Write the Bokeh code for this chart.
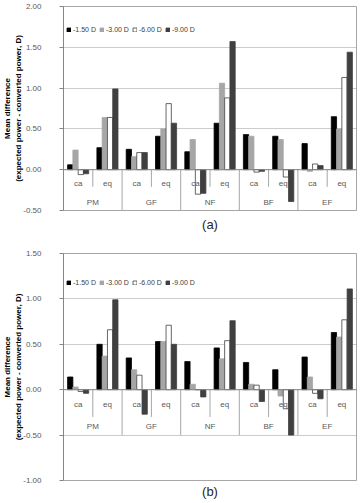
from bokeh.plotting import figure
from bokeh.layouts import column
from bokeh.models import (FactorRange, ColumnDataSource, FixedTicker, PrintfTickFormatter,
                          Span, Title, Legend, LegendItem)
from bokeh.transform import dodge
from bokeh.core.properties import value
from bokeh.embed import file_html
from bokeh.resources import INLINE

# Categories: fitting group x axis type
groups = ["PM", "GF", "NF", "BF", "EF"]
subs = ["ca", "eq"]
series_names = ["-1.50 D", "-3.00 D", "-6.00 D", "-9.00 D"]

# Panel (a): values ordered PM ca, PM eq, GF ca, GF eq, NF ca, NF eq, BF ca, BF eq, EF ca, EF eq
a_150 = [0.06, 0.27, 0.25, 0.41, 0.22, 0.57, 0.43, 0.41, 0.32, 0.65]
a_300 = [0.24, 0.64, 0.16, 0.50, 0.37, 1.06, 0.41, 0.37, -0.02, 0.50]
a_600 = [-0.06, 0.64, 0.21, 0.81, -0.30, 0.88, -0.03, -0.09, 0.07, 1.13]
a_900 = [-0.05, 0.99, 0.21, 0.57, -0.29, 1.57, -0.02, -0.39, 0.05, 1.44]

# Panel (b)
b_150 = [0.14, 0.50, 0.35, 0.53, 0.31, 0.46, 0.30, 0.22, 0.36, 0.63]
b_300 = [0.03, 0.37, 0.22, 0.53, 0.06, 0.34, 0.06, -0.07, 0.14, 0.58]
b_600 = [-0.02, 0.66, 0.16, 0.71, 0.00, 0.54, 0.05, -0.21, -0.04, 0.77]
b_900 = [-0.04, 0.99, -0.27, 0.50, -0.08, 0.76, -0.13, -0.50, -0.10, 1.11]

a_ticks = [-0.5, 0.0, 0.5, 1.0, 1.5, 2.0]
b_ticks = [-1.0, -0.5, 0.0, 0.5, 1.0, 1.5]

FONT = "Liberation Sans"
fills = ["#000000", "#A6A6A6", "#FFFFFF", "#404040"]
lines = ["#000000", "#A6A6A6", "#404040", "#404040"]
offsets = [-0.27, -0.09, 0.09, 0.27]
BAR_W = 0.18


def panel(vals, ticks, caption, height, top, bottom, legend_y, cap_standoff, sub_sep):
    factors = [(g, s) for g in groups for s in subs]
    xr = FactorRange(*factors, factor_padding=0, subgroup_padding=0,
                     group_padding=0, range_padding=0)
    p = figure(width=360, height=height, x_range=xr, y_range=(ticks[0], ticks[-1]),
               x_axis_type=None, output_backend="svg", toolbar_location=None,
               min_border_left=57, min_border_right=4, min_border_top=top,
               min_border_bottom=bottom, background_fill_color="white",
               outline_line_color="#A6A6A6", outline_line_width=1)

    data = dict(x=factors)
    for i, v in enumerate(vals):
        data["s%d" % i] = v
    src = ColumnDataSource(data)

    items = []
    for i, name in enumerate(series_names):
        r = p.vbar(x=dodge("x", offsets[i], range=p.x_range), top="s%d" % i, bottom=0,
                   width=BAR_W, source=src, fill_color=fills[i],
                   line_color=lines[i], line_width=0.8)
        items.append(LegendItem(label=name, renderers=[r]))

    # category axis crossing at zero
    p.add_layout(Span(location=0, dimension="width", line_color="#868686", line_width=1))

    # short dividers between ca / eq, long dividers between groups
    sep = ColumnDataSource(dict(x=[(g, "eq") for g in groups]))
    p.segment(x0=dodge("x", -0.5, range=p.x_range), y0=0,
              x1=dodge("x", -0.5, range=p.x_range), y1=sub_sep,
              source=sep, line_color="#A6A6A6", line_width=1)
    gsep = ColumnDataSource(dict(x=[(g, "eq") for g in groups[:-1]]))
    p.segment(x0=dodge("x", 0.5, range=p.x_range), y0=0,
              x1=dodge("x", 0.5, range=p.x_range), y1=-0.5,
              source=gsep, line_color="#A6A6A6", line_width=1)

    lab = ColumnDataSource(dict(x=factors, t=[s for g in groups for s in subs]))
    p.text(x="x", y=-0.165, text="t", source=lab, text_font=value(FONT),
           text_font_size="8px", text_color="#595959", text_align="center",
           text_baseline="middle")
    glab = ColumnDataSource(dict(x=groups, t=groups))
    p.text(x="x", y=-0.40, text="t", source=glab, text_font=value(FONT),
           text_font_size="8px", text_color="#595959", text_align="center",
           text_baseline="middle")

    ax = p.yaxis[0]
    ax.ticker = FixedTicker(ticks=ticks)
    ax.formatter = PrintfTickFormatter(format="%.2f")
    ax.major_label_text_font = FONT
    ax.major_label_text_font_size = "8px"
    ax.major_label_text_color = "#595959"
    ax.major_label_standoff = 18
    ax.major_tick_out = 4
    ax.major_tick_in = 0
    ax.minor_tick_out = 0
    ax.minor_tick_in = 0
    ax.axis_line_color = "#868686"
    ax.major_tick_line_color = "#868686"
    ax.axis_label = "Mean difference\n(expected power - converted power, D)"
    ax.axis_label_text_font = FONT
    ax.axis_label_text_font_size = "8px"
    ax.axis_label_text_font_style = "bold"
    ax.axis_label_text_color = "#000000"
    ax.axis_label_standoff = -3

    p.xgrid.visible = False
    p.ygrid.grid_line_color = "#7F7F7F"
    p.ygrid.grid_line_dash = "1 1"
    p.ygrid.grid_line_width = 0.8

    leg = Legend(items=items, orientation="horizontal", location=(3, legend_y),
                 glyph_width=5, glyph_height=5, label_standoff=2, spacing=3,
                 padding=2, margin=0, border_line_color=None,
                 background_fill_alpha=0, label_text_font=FONT,
                 label_text_font_size="7px", label_text_color="#404040",
                 label_height=8)
    p.add_layout(leg)

    t = Title(text=caption, align="center", text_font=FONT, text_font_size="13px",
              text_font_style="normal", text_color="#262626", offset=-27,
              standoff=cap_standoff)
    p.add_layout(t, "below")
    return p


pa = panel([a_150, a_300, a_600, a_900], a_ticks, "(a)", 245, 6, 35, 177, 8, -0.21)
pb = panel([b_150, b_300, b_600, b_900], b_ticks, "(b)", 258, 8, 23, 194, 2, -0.30)

layout = column(pa, pb, spacing=0)
open("out.html", "w").write(file_html(layout, INLINE))
